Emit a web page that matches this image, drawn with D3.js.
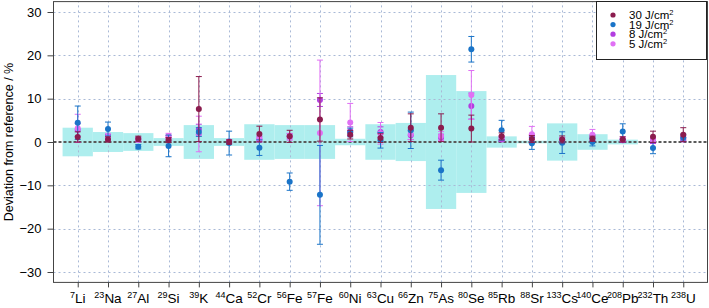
<!DOCTYPE html>
<html lang="en">
<head>
<meta charset="UTF-8" />
<title>Deviation from reference</title>
<script src="https://cdn.jsdelivr.net/npm/d3@7"></script>
<style>
  body { margin: 0; background: #fff; }
  svg { font-family: "Liberation Sans", Arial, sans-serif; }
</style>
</head>
<body>
<div id="container"></div>
<script>
// isotopes on the x axis
const masses = [7, 23, 27, 29, 39, 44, 52, 56, 57, 60, 63, 66, 75, 80, 85, 88, 133, 140, 208, 232, 238]
const elements = ['Li', 'Na', 'Al', 'Si', 'K', 'Ca', 'Cr', 'Fe', 'Fe', 'Ni', 'Cu', 'Zn', 'As', 'Se', 'Rb', 'Sr', 'Cs', 'Ce', 'Pb', 'Th', 'U']

// reference uncertainty (+/- %), cyan band
const band = [3.3, 2.3, 2.05, 0.9, 3.9, 0.9, 4.1, 3.9, 3.9, 0.75, 4.1, 4.4, 15.45, 11.75, 1.3, 0.3, 4.3, 1.8, 0.55, 0, 0]

// deviations and error bars per fluence
const dev30 = [1.15, 0.6, 0.75, 0.45, 7.6, 0.0, 1.85, 1.3, 5.2, 1.7, 0.9, 3.3, 3.3, 3.1, 1.3, 0.7, 0.6, 0.75, 0.6, 1.2, 1.7]
const err30 = [1.2, 0.6, 0.6, 0.6, 7.5, 0.5, 1.8, 1.4, 5.0, 1.0, 1.0, 3.2, 3.2, 3.1, 0.8, 0.8, 0.8, 0.6, 0.6, 1.3, 1.6]
const dev19 = [4.45, 3.0, -1.1, -0.9, 2.3, -0.25, -1.3, -9.15, -12.2, 2.2, 0.4, 2.7, -6.5, 21.4, 2.7, -0.3, -0.15, 0.0, 2.4, -1.4, 1.0]
const err19 = [3.85, 1.6, 0.5, 2.5, 1.0, 2.75, 1.8, 2.0, 11.4, 1.0, 1.8, 4.2, 2.3, 2.95, 2.3, 1.4, 2.5, 0.9, 1.8, 1.3, 0.8]
const dev8 = [2.8, 1.1, 0.6, 0.9, 2.9, 0.1, 0.6, 1.3, 9.7, 2.5, 2.3, 1.55, 1.0, 8.3, 0.6, 1.2, 0.5, 1.0, 0.4, 0.15, 0.6]
const err8 = [1.5, 0.6, 0.5, 0.6, 1.2, 0.4, 0.6, 0.6, 1.5, 1.0, 1.2, 1.0, 0.8, 3.0, 0.5, 0.6, 0.5, 0.6, 0.4, 0.5, 0.5]
const dev5 = [3.15, 1.2, 0.5, 1.4, 1.85, 0.1, 0.8, 1.2, 2.1, 4.5, 2.0, 1.8, 1.4, 10.85, 0.9, 1.8, 0.4, 1.7, 0.7, 0.6, 0.9]
const err5 = [3.25, 0.8, 0.5, 0.6, 4.1, 0.4, 0.6, 0.8, 16.8, 4.4, 2.5, 1.2, 1.0, 5.65, 0.6, 1.8, 0.6, 1.2, 0.5, 0.5, 0.6]

const yTicks = [-30, -20, -10, 0, 10, 20, 30]

const series = [
  { label: '30', dev: dev30, err: err30, color: '#8b1c4e' },
  { label: '19', dev: dev19, err: err19, color: '#1a74c8' },
  { label: '8', dev: dev8, err: err8, color: '#b23ee0' },
  { label: '5', dev: dev5, err: err5, color: '#e070f4' }
]
// drawing order (later on top)
const drawOrder = [2, 3, 1, 0]

const width = 709
const height = 308
const marginLeft = 53.5
const marginRight = 1.5
const marginTop = 1.6
const marginBottom = 25.6

const xScale = d3.scaleLinear()
  .domain([0.2, 21.8])
  .range([marginLeft, width - marginRight])

const yScale = d3.scaleLinear()
  .domain([-32.4, 32.4])
  .range([height - marginBottom, marginTop])

const svg = d3.create('svg')
  .attr('width', width)
  .attr('height', height)
  .attr('viewBox', [0, 0, width, height])

const idx = d3.range(1, masses.length + 1)

// reference bands
svg.append('g')
  .attr('fill', '#aeeeee')
  .selectAll()
  .data(idx.filter(i => band[i - 1] > 0))
  .join('rect')
  .attr('x', i => xScale(i - 0.5))
  .attr('width', i => xScale(i + 0.5) - xScale(i - 0.5))
  .attr('y', i => yScale(band[i - 1]))
  .attr('height', i => yScale(-band[i - 1]) - yScale(band[i - 1]))

// grid
const grid = svg.append('g')
  .attr('stroke', '#a9b9d6')
  .attr('stroke-dasharray', '2,3')
  .attr('stroke-width', 1)
grid.selectAll('.gx')
  .data(idx)
  .join('line')
  .attr('x1', i => Math.round(xScale(i)) + 0.5)
  .attr('x2', i => Math.round(xScale(i)) + 0.5)
  .attr('y1', yScale.range()[0])
  .attr('y2', yScale.range()[1])
grid.selectAll('.gy')
  .data(yTicks.filter(v => v !== 0))
  .join('line')
  .attr('x1', xScale.range()[0])
  .attr('x2', xScale.range()[1])
  .attr('y1', v => Math.round(yScale(v)) + 0.5)
  .attr('y2', v => Math.round(yScale(v)) + 0.5)

// zero line
svg.append('line')
  .attr('x1', xScale.range()[0])
  .attr('x2', xScale.range()[1])
  .attr('y1', yScale(0))
  .attr('y2', yScale(0))
  .attr('stroke', '#5a5a5a')
  .attr('stroke-width', 2)
  .attr('stroke-dasharray', '3,2')

// error bars and points
drawOrder.forEach(k => {
  const s = series[k]
  const g = svg.append('g')
  const bars = g.append('g')
    .attr('stroke', s.color)
    .attr('stroke-width', 1)
  bars.selectAll('.v')
    .data(idx)
    .join('line')
    .attr('x1', i => xScale(i))
    .attr('x2', i => xScale(i))
    .attr('y1', i => yScale(s.dev[i - 1] - s.err[i - 1]))
    .attr('y2', i => yScale(s.dev[i - 1] + s.err[i - 1]))
  ;[1, -1].forEach(sign => {
    bars.selectAll('.c' + sign)
      .data(idx)
      .join('line')
      .attr('x1', i => xScale(i) - 3)
      .attr('x2', i => xScale(i) + 3)
      .attr('y1', i => yScale(s.dev[i - 1] + sign * s.err[i - 1]))
      .attr('y2', i => yScale(s.dev[i - 1] + sign * s.err[i - 1]))
  })
  g.append('g')
    .attr('fill', s.color)
    .selectAll()
    .data(idx)
    .join('circle')
    .attr('cx', i => xScale(i))
    .attr('cy', i => yScale(s.dev[i - 1]))
    .attr('r', 3)
})

// frame
svg.append('rect')
  .attr('x', xScale.range()[0])
  .attr('y', yScale.range()[1])
  .attr('width', xScale.range()[1] - xScale.range()[0])
  .attr('height', yScale.range()[0] - yScale.range()[1])
  .attr('fill', 'none')
  .attr('stroke', '#444')
  .attr('stroke-width', 1)

// y axis
const yAxis = svg.append('g')
  .attr('transform', `translate(${xScale.range()[0]},0)`)
  .call(d3.axisLeft(yScale).tickValues(yTicks).tickSize(6).tickPadding(6))
yAxis.select('.domain').remove()
yAxis.selectAll('line').attr('stroke', '#444')
yAxis.selectAll('text')
  .attr('font-size', 13)
  .attr('fill', '#000')
  .attr('font-family', '"Liberation Sans", Arial, sans-serif')

svg.append('text')
  .attr('transform', `translate(13,${yScale(0)}) rotate(-90)`)
  .attr('text-anchor', 'middle')
  .attr('font-size', 12.5)
  .text('Deviation from reference / %')

// x axis
const xAxis = svg.append('g')
  .attr('transform', `translate(0,${yScale.range()[0]})`)
  .call(d3.axisBottom(xScale).tickValues(idx).tickSize(5).tickFormat(''))
xAxis.select('.domain').remove()
xAxis.selectAll('line').attr('stroke', '#444')

const xl = svg.append('g')
  .selectAll()
  .data(idx)
  .join('text')
  .attr('x', i => xScale(i))
  .attr('y', 303)
  .attr('text-anchor', 'middle')
  .attr('font-size', 13.5)
xl.append('tspan')
  .attr('font-size', 9)
  .attr('dy', -5)
  .text(i => masses[i - 1])
xl.append('tspan')
  .attr('dy', 5)
  .text(i => elements[i - 1])

// legend
const legend = svg.append('g')
legend.append('rect')
  .attr('x', 596.5)
  .attr('y', 1.5)
  .attr('width', 110)
  .attr('height', 58)
  .attr('fill', '#fff')
  .attr('stroke', '#222')
  .attr('stroke-width', 1)
series.forEach((s, k) => {
  const cy = 15 + k * 9.6
  legend.append('circle')
    .attr('cx', 613)
    .attr('cy', cy)
    .attr('r', 2.6)
    .attr('fill', s.color)
  const t = legend.append('text')
    .attr('x', 629)
    .attr('y', cy + 4)
    .attr('font-size', 11.5)
  t.append('tspan').text(s.label + ' J/cm')
  t.append('tspan').attr('font-size', 7.5).attr('dy', -4).text('2')
})

container.append(svg.node())
</script>
</body>
</html>
